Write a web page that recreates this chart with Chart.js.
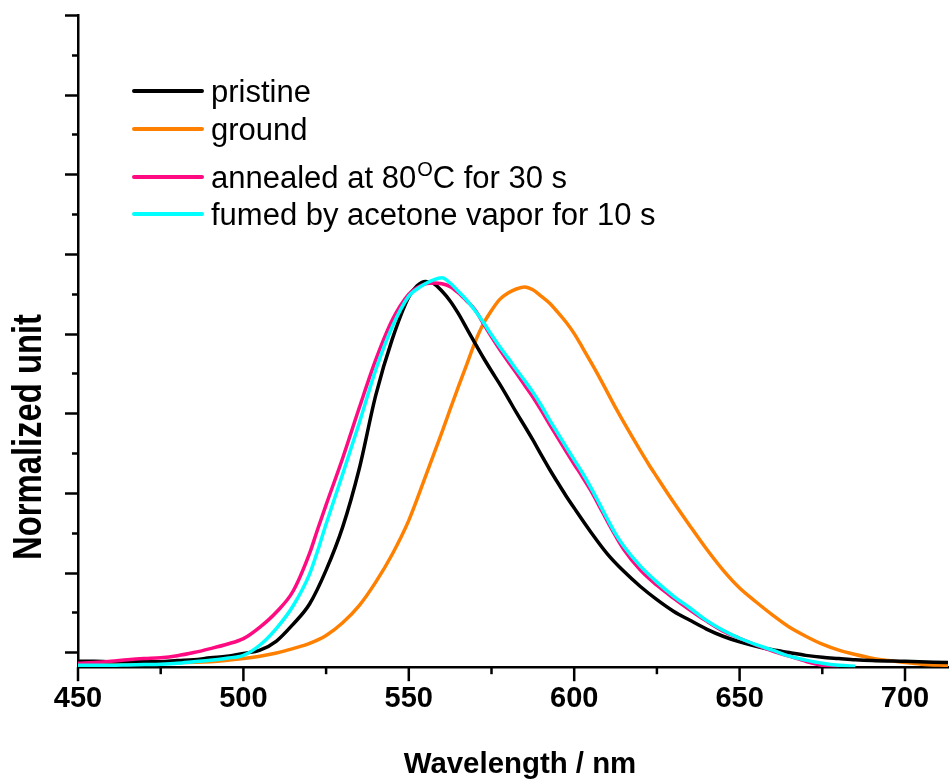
<!DOCTYPE html>
<html>
<head>
<meta charset="utf-8">
<script src="https://cdn.jsdelivr.net/npm/chart.js@4.4.1/dist/chart.umd.min.js"></script>
<style>
  html, body { margin: 0; padding: 0; background: #fff; }
  #wrap { width: 949px; height: 781px; }
</style>
</head>
<body>
<div id="wrap"><canvas id="chart" width="949" height="781"></canvas></div>
<script>
// Emission spectra (y in "normalized" units, 0.2 per major tick)
const pristineNm = [450, 455, 460, 465, 470, 475, 480, 485, 490, 495, 500, 505, 510, 515, 520, 525, 530, 535, 540, 545, 550, 552.5, 555, 557.5, 560, 562.5, 565, 567.5, 570, 572.5, 575, 577.5, 580, 582.5, 585, 587.5, 590, 592.5, 595, 597.5, 600, 605, 610, 615, 620, 625, 630, 635, 640, 645, 650, 655, 660, 665, 670, 675, 680, 685, 690, 700, 713];
const pristineVal = [-0.023, -0.023, -0.024, -0.024, -0.024, -0.024, -0.021, -0.019, -0.014, -0.010, -0.003, 0.005, 0.028, 0.070, 0.121, 0.206, 0.314, 0.460, 0.645, 0.786, 0.892, 0.920, 0.931, 0.926, 0.907, 0.882, 0.850, 0.813, 0.776, 0.740, 0.706, 0.673, 0.638, 0.602, 0.568, 0.533, 0.496, 0.460, 0.426, 0.393, 0.362, 0.302, 0.247, 0.203, 0.165, 0.132, 0.103, 0.080, 0.058, 0.040, 0.026, 0.015, 0.006, -0.001, -0.008, -0.013, -0.016, -0.019, -0.021, -0.023, -0.026];

const groundNm = [450, 460, 470, 480, 490, 500, 505, 510, 515, 520, 525, 530, 535, 540, 545, 550, 555, 560, 562.5, 565, 567.5, 570, 572.5, 575, 577.5, 580, 582.5, 585, 587.5, 590, 592.5, 595, 597.5, 600, 602.5, 605, 607.5, 610, 612.5, 615, 617.5, 620, 622.5, 625, 630, 635, 640, 645, 650, 655, 660, 665, 670, 675, 680, 685, 690, 695, 700, 705, 713];
const groundVal = [-0.024, -0.025, -0.026, -0.026, -0.024, -0.016, -0.010, -0.002, 0.009, 0.022, 0.042, 0.074, 0.117, 0.176, 0.246, 0.331, 0.440, 0.552, 0.610, 0.667, 0.722, 0.778, 0.824, 0.858, 0.886, 0.902, 0.912, 0.917, 0.910, 0.894, 0.877, 0.854, 0.829, 0.800, 0.765, 0.729, 0.692, 0.653, 0.614, 0.577, 0.541, 0.506, 0.472, 0.440, 0.377, 0.317, 0.259, 0.206, 0.161, 0.126, 0.093, 0.063, 0.040, 0.020, 0.005, -0.006, -0.015, -0.021, -0.026, -0.030, -0.033];

const annealedNm = [450, 455, 460, 465, 470, 475, 480, 485, 490, 495, 500, 505, 510, 515, 520, 522.5, 525, 530, 535, 540, 545, 550, 552.5, 555, 557.5, 560, 562.5, 565, 567.5, 570, 572.5, 575, 577.5, 580, 582.5, 585, 587.5, 590, 592.5, 595, 597.5, 600, 602.5, 605, 607.5, 610, 612.5, 615, 620, 625, 630, 635, 640, 645, 650, 655, 660, 665, 670, 675, 680];
const annealedVal = [-0.028, -0.026, -0.023, -0.019, -0.016, -0.014, -0.009, -0.001, 0.009, 0.020, 0.034, 0.063, 0.101, 0.153, 0.248, 0.310, 0.370, 0.487, 0.613, 0.734, 0.834, 0.899, 0.915, 0.925, 0.927, 0.925, 0.918, 0.902, 0.882, 0.860, 0.826, 0.792, 0.760, 0.730, 0.701, 0.671, 0.641, 0.608, 0.573, 0.539, 0.505, 0.472, 0.440, 0.406, 0.368, 0.329, 0.292, 0.258, 0.206, 0.168, 0.136, 0.106, 0.078, 0.053, 0.035, 0.018, 0.003, -0.010, -0.023, -0.033, -0.036];

const fumedNm = [450, 455, 460, 465, 470, 475, 480, 485, 490, 495, 500, 505, 510, 515, 520, 522.5, 525, 530, 535, 540, 545, 550, 552.5, 555, 557.5, 560, 562.5, 565, 567.5, 570, 572.5, 575, 577.5, 580, 582.5, 585, 587.5, 590, 592.5, 595, 597.5, 600, 602.5, 605, 607.5, 610, 612.5, 615, 620, 625, 630, 635, 640, 645, 650, 655, 660, 665, 670, 675, 680, 685];
const fumedVal = [-0.033, -0.033, -0.033, -0.032, -0.031, -0.030, -0.028, -0.024, -0.020, -0.015, -0.008, 0.018, 0.060, 0.116, 0.196, 0.256, 0.322, 0.447, 0.575, 0.709, 0.817, 0.894, 0.912, 0.925, 0.935, 0.940, 0.927, 0.906, 0.884, 0.858, 0.829, 0.797, 0.767, 0.739, 0.710, 0.682, 0.653, 0.620, 0.584, 0.550, 0.516, 0.483, 0.450, 0.414, 0.375, 0.335, 0.297, 0.266, 0.216, 0.176, 0.141, 0.111, 0.080, 0.055, 0.035, 0.019, 0.005, -0.010, -0.020, -0.028, -0.033, -0.035];

const seriesNames = ['pristine', 'ground', 'annealed at 80', 'fumed by acetone vapor for 10 s'];
const seriesColors = ['#000000', '#ff8000', '#ff0a80', '#00ffff'];

const xLabel = 'Wavelength / nm';
const yLabel = 'Normalized unit';

const toPoints = (xs, ys) => xs.map((x, i) => ({ x: x, y: ys[i] }));

const mkSet = (i, xs, ys, order) => ({
    label: seriesNames[i],
    data: toPoints(xs, ys),
    borderColor: seriesColors[i],
    borderWidth: 3.5,
    pointRadius: 0,
    fill: false,
    cubicInterpolationMode: 'monotone',
    order: order
});

// tick marks, axis titles and legend drawn on top
const decor = {
    id: 'decor',
    afterDraw(chart) {
        const ctx = chart.ctx;
        const xs = chart.scales.x, ys = chart.scales.y;
        const area = chart.chartArea;
        ctx.save();
        ctx.strokeStyle = '#000';
        ctx.lineWidth = 2.5;
        ctx.lineCap = 'butt';
        // y ticks (outside, left)
        for (let v = 0; v <= 1.6001; v += 0.1) {
            const py = Math.round(ys.getPixelForValue(v)) + 0.5;
            const major = Math.abs(v / 0.2 - Math.round(v / 0.2)) < 1e-6;
            ctx.beginPath();
            ctx.moveTo(area.left - (major ? 13 : 6), py);
            ctx.lineTo(area.left, py);
            ctx.stroke();
        }
        // x ticks (outside, down)
        xs.ticks.forEach(t => {
            const px = xs.getPixelForValue(t.value);
            const major = t.value % 50 === 0;
            ctx.beginPath();
            ctx.moveTo(px, area.bottom);
            ctx.lineTo(px, area.bottom + (major ? 14 : 7));
            ctx.stroke();
        });

        ctx.fillStyle = '#000';
        // x title
        ctx.font = 'bold 30px "Liberation Sans", Arial, sans-serif';
        ctx.textAlign = 'center';
        ctx.textBaseline = 'alphabetic';
        ctx.save();
        ctx.translate(520, 773);
        ctx.scale(0.98, 1);
        ctx.fillText(xLabel, 0, 0);
        ctx.restore();
        // y title (rotated, condensed)
        ctx.save();
        ctx.translate(41, 437);
        ctx.rotate(-Math.PI / 2);
        ctx.scale(0.82, 1);
        ctx.font = 'bold 40px "Liberation Sans", Arial, sans-serif';
        ctx.fillText(yLabel, 0, 0);
        ctx.restore();

        // legend
        const rows = [91, 129, 177, 214];
        const f = '31px "Liberation Sans", Arial, sans-serif';
        ctx.textAlign = 'left';
        rows.forEach((ry, i) => {
            ctx.strokeStyle = seriesColors[i];
            ctx.lineWidth = 4;
            ctx.lineCap = 'round';
            ctx.beginPath();
            ctx.moveTo(134, ry);
            ctx.lineTo(202, ry);
            ctx.stroke();
            const by = ry + 11;
            ctx.font = f;
            ctx.fillText(seriesNames[i], 211, by);
            if (i === 2) {
                const w = ctx.measureText(seriesNames[i]).width;
                ctx.font = '20px "Liberation Sans", Arial, sans-serif';
                ctx.fillText('O', 211 + w + 1, by - 12);
                const w2 = ctx.measureText('O').width;
                ctx.font = f;
                ctx.fillText('C for 30 s', 211 + w + w2 + 1, by);
            }
        });
        ctx.restore();
    }
};

new Chart(document.getElementById('chart'), {
    type: 'line',
    data: {
        datasets: [
            mkSet(0, pristineNm, pristineVal, 2),
            mkSet(1, groundNm, groundVal, 3),
            mkSet(2, annealedNm, annealedVal, 1),
            mkSet(3, fumedNm, fumedVal, 0)
        ]
    },
    options: {
        responsive: false,
        animation: false,
        layout: { padding: { left: 78, top: 15, right: 0, bottom: 51 } },
        plugins: { legend: { display: false }, tooltip: { enabled: false } },
        scales: {
            x: {
                type: 'linear',
                min: 450,
                max: 713.3,
                grid: { display: true, drawOnChartArea: false, drawTicks: false },
                border: { display: true, color: '#000', width: 2.5 },
                ticks: {
                    stepSize: 25,
                    includeBounds: false,
                    autoSkip: false,
                    maxRotation: 0,
                    padding: 14,
                    color: '#000',
                    font: { family: '"Liberation Sans", Arial, sans-serif', size: 29, weight: 'bold' },
                    callback: v => (v % 50 === 0 ? String(v) : '')
                }
            },
            y: {
                type: 'linear',
                min: -0.0377,
                max: 1.6,
                grid: { display: true, drawOnChartArea: false, drawTicks: false },
                border: { display: true, color: '#000', width: 2.5 },
                ticks: { display: false, stepSize: 0.1, includeBounds: false }
            }
        }
    },
    plugins: [decor]
});
</script>
</body>
</html>
